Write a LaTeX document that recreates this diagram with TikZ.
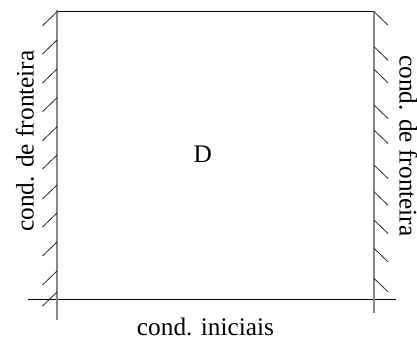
\documentclass[tikz,border=0pt]{standalone}
\usepackage{fontspec}
\setmainfont{Liberation Serif}
\tikzset{
  wall/.style={draw=black!47, line width=1.3pt},
  edge/.style={draw=black, line width=0.9pt},
  hatch/.style={draw=black!85, line width=0.8pt},
  lbl/.style={inner sep=0pt, font=\fontsize{25.3}{30}\selectfont}
}
\begin{document}
\begin{tikzpicture}[x=1pt,y=-1pt]
\useasboundingbox (0,0) rectangle (417,338);
% walls and edges
\draw[edge] (57,11) -- (374,11);
\draw[edge] (28,299.3) -- (396,299.3);
\draw[wall] (57,10) -- (57,320);
\draw[wall] (374,11) -- (374,313);
% hatches left
\foreach \y in {11.7,40,69,97.7,126.7,155,185,213,242,271,292}
  \draw[hatch] (57,\y) -- (42.5,\y+14);
% hatches right
\foreach \y in {11.7,46.7,69.3,105,130,165,191.7,220,248.3,278.3}
  \draw[hatch] (374,\y) -- (388,\y+13.5);
% labels
\node[lbl] (dom) at (202.7,154) {D};
\node[lbl, anchor=base] (ini) at (205.5,335.5) {cond. iniciais};
\node[lbl, anchor=base, rotate=90] (fl) at (33.5,141) {cond. de fronteira};
\node[lbl, anchor=base, rotate=-90] (fr) at (399.5,146) {cond. de fronteira};
\end{tikzpicture}
\end{document}
